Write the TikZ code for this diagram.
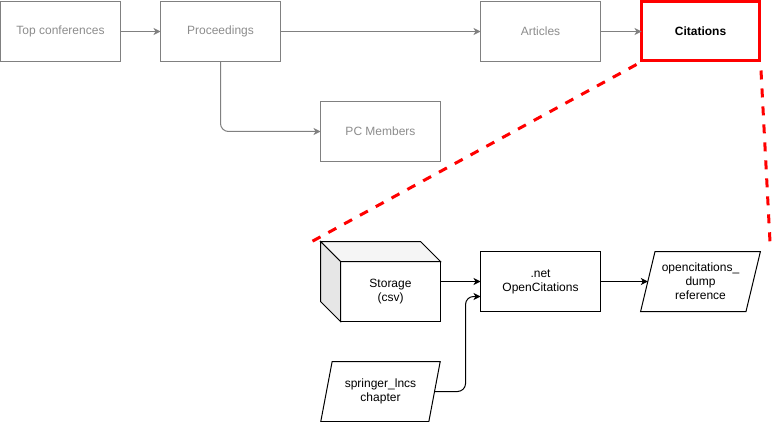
\documentclass[tikz,border=0pt]{standalone}
\usepackage{fontspec}
\setmainfont{Liberation Sans}
\usepackage{tikz}
\usetikzlibrary{arrows,arrows.meta,shapes.geometric,positioning}
\usepackage{xcolor}
\definecolor{flowgray}{RGB}{128,128,128}
\definecolor{labelgray}{RGB}{140,140,140}
\definecolor{zoomred}{RGB}{255,0,0}
\definecolor{topface}{RGB}{245,245,245}
\definecolor{sideface}{RGB}{230,230,230}
\tikzstyle{arrow} = [line width=1pt,->,>={Stealth[length=7pt,width=7pt,inset=2pt]},color=black]
\tikzstyle{grayarrow} = [line width=1pt,->,>={Stealth[length=7pt,width=7pt,inset=2pt]},color=flowgray]
\tikzstyle{zoomline} = [line width=3pt,dash pattern=on 9pt off 9pt,color=zoomred]
\tikzstyle{graybox} = [rectangle, minimum width=120pt, minimum height=60pt, inner sep=0pt, outer sep=0pt, text centered, align=center, draw=flowgray, text=labelgray, line width=1pt]
\tikzstyle{citebox} = [rectangle, minimum width=118pt, minimum height=59pt, inner sep=0pt, outer sep=0pt, text centered, draw=zoomred, line width=3pt, font=\fontsize{12}{14}\selectfont\bfseries]
\tikzstyle{procbox} = [rectangle, minimum width=120pt, minimum height=60pt, inner sep=0pt, outer sep=0pt, text centered, align=center, draw=black, fill=white, line width=1pt]
\tikzstyle{databox} = [trapezium, trapezium left angle=71.57, trapezium right angle=108.43, trapezium stretches=true, minimum width=120pt, minimum height=60pt, inner sep=0pt, outer sep=0pt, align=center, draw=black, line width=1pt]

\begin{document}
\begin{tikzpicture}[x=1pt, y=-1pt, node distance=40pt, font=\fontsize{12}{14}\selectfont]
\useasboundingbox (0,0) rectangle (773,422);
\node[graybox] (topc) at (60.5,31.5) {Top conferences};
\node[graybox, right=of topc] (proc) {Proceedings};
\node[graybox, right=200pt of proc] (art) {Articles};
\node[citebox, right=41pt of art] (cit) {Citations};
\node[graybox] (pc) at (380.5,131.5) {PC Members};

\draw[grayarrow] (topc) -- (proc);
\draw[grayarrow] (proc) -- (art);
\draw[grayarrow] (art) -- (cit);
\draw[grayarrow, rounded corners=8pt] (proc.south) |- (pc.west);

\node[procbox, minimum width=100pt] (stor) at (390.5,291.5) {Storage\\(csv)};
\filldraw[line width=1pt, fill=topface] (stor.north west) -- ++(-20,-20) -- ++(100,0) -- (stor.north east) -- cycle;
\filldraw[line width=1pt, fill=sideface] (stor.north west) -- ++(-20,-20) -- ++(0,60) -- (stor.south west) -- cycle;
\node[procbox] (oc) at (540.5,281.5) {.net\\OpenCitations};
\node[databox] (dump) at (700.5,281.5) {opencitations\_\\dump\\reference};
\node[databox] (spr) at (380.5,391.5) {springer\_lncs\\chapter};

\draw[arrow] ([yshift=10pt]stor.east) -- (oc.west);
\draw[arrow] (oc.east) -- (dump.left side);
\draw[arrow, rounded corners=8pt] (spr.right side) -- ++(31,0) |- ([yshift=-15pt]oc.west);

\coordinate (zl) at (311,242);
\coordinate (zr) at (770,242);
\draw[zoomline] ([xshift=-5pt,yshift=-3.5pt]cit.south west) -- (zl);
\draw[zoomline] ([xshift=1.5pt,yshift=-9.5pt]cit.south east) -- (zr);
\end{tikzpicture}
\end{document}
